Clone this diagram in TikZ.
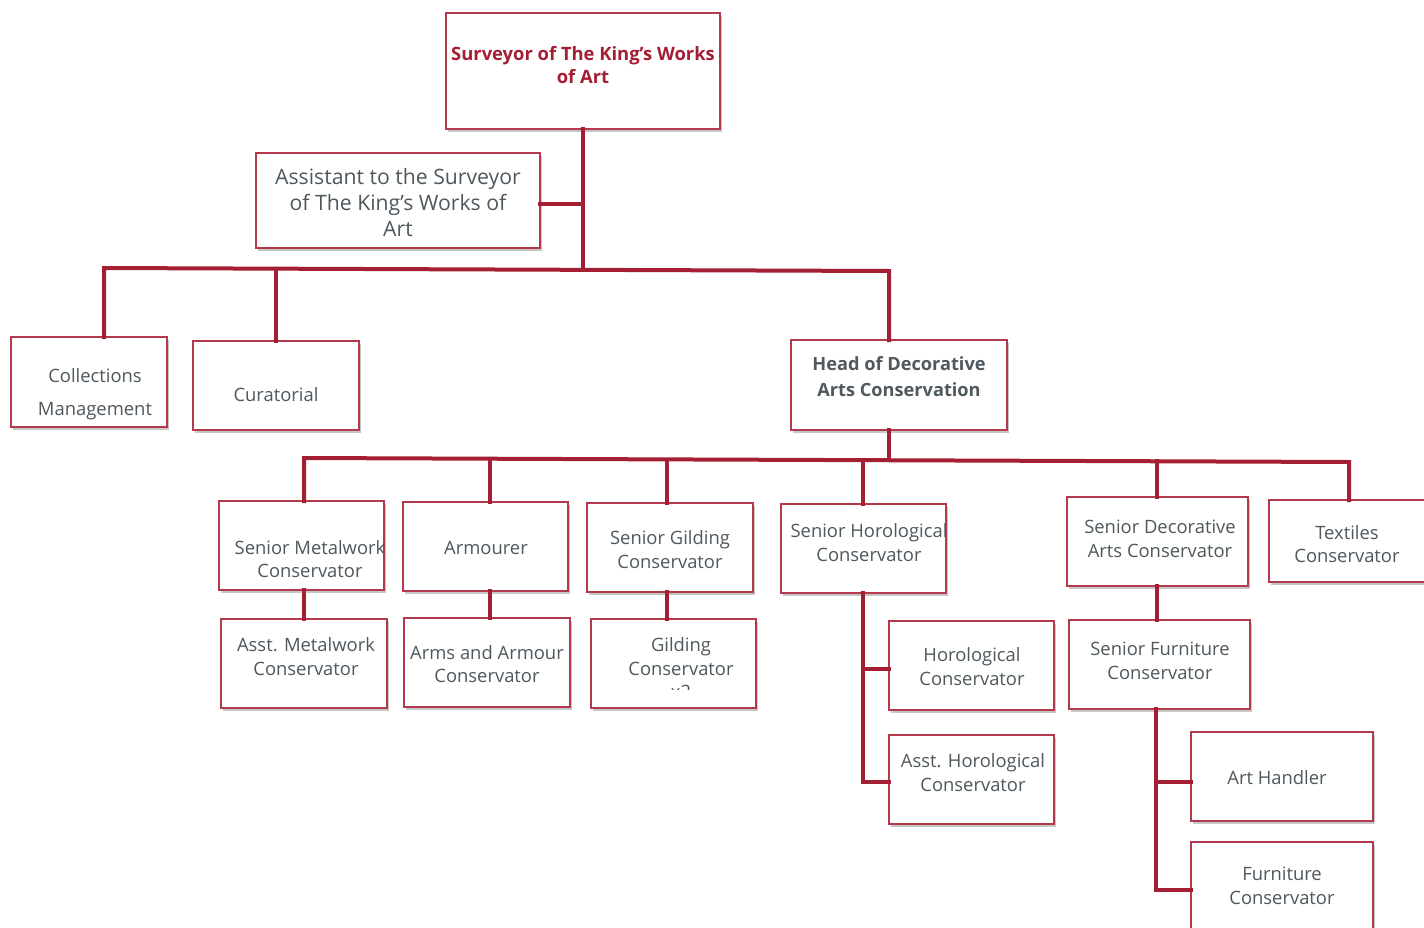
\documentclass[tikz,border=0pt]{standalone}
\usepackage{fontspec}
\setmainfont{Open Sans}
\usetikzlibrary{shadows}
\definecolor{kred}{HTML}{A41E34}
\definecolor{kborder}{HTML}{B23A4C}
\definecolor{kgray}{HTML}{4E585D}
\tikzset{
  obox/.style={draw=kborder,line width=0.6pt,fill=white,inner sep=0pt,outer sep=0pt,
    drop shadow={shadow xshift=1pt,shadow yshift=-1.5pt,fill=black,opacity=0.22}},
  otext/.style={text=kgray,align=center,inner sep=0pt,font=\fontsize{9.2}{11.9}\selectfont},
  conn/.style={draw=kred,line width=2pt,line cap=rect}
}
\newcommand\obx[5]{%
  \pgfmathsetmacro\obw{(#4-#2)*0.5}\pgfmathsetmacro\obh{(#5-#3)*0.5}%
  \node[obox,minimum width=\obw pt,minimum height=\obh pt] (#1) at ({(#2+#4)/2},{(#3+#5)/2}) {};}
\begin{document}
\begin{tikzpicture}[x=0.5pt,y=-0.5pt]
\useasboundingbox (0,0) rectangle (1424,927);
\coordinate (j1) at (583,270);
\coordinate (j2) at (889,460);
\obx{sv}{446}{13}{720}{129}
\obx{as}{256}{153}{540}{248}
\obx{cm}{11}{337}{167}{427}
\obx{cu}{193}{341}{359}{430}
\obx{hd}{791}{340}{1007}{430}
\obx{sm}{219}{501}{384}{590}
\obx{ar}{403}{502}{568}{591}
\obx{sg}{587}{503}{753}{592}
\obx{sh}{781}{504}{946}{593}
\obx{sd}{1067}{497}{1248}{586}
\obx{tx}{1269}{500}{1434}{582}
\obx{am}{221}{619}{387}{708}
\obx{aa}{404}{618}{570}{707}
\obx{gc}{591}{619}{756}{708}
\obx{ho}{889}{621}{1054}{710}
\obx{ah}{889}{735}{1054}{824}
\obx{sf}{1069}{620}{1250}{709}
\obx{hn}{1191}{732}{1373}{821}
\obx{fc}{1191}{842}{1373}{940}
% connectors
\draw[conn] (sv.south -| 583,0) -- (j1);
\draw[conn] (as.east |- 0,204) -- (583,204);
\draw[conn] (cm.north -| 104,0) -- (104,268) -- (889,271) -- (hd.north -| 889,0);
\draw[conn] (276,269) -- (cu.north -| 276,0);
\draw[conn] (hd.south -| 889,0) -- (j2);
\draw[conn] (sm.north -| 304,0) -- (304,458) -- (1349,462) -- (tx.north -| 1349,0);
\draw[conn] (490,459) -- (ar.north -| 490,0);
\draw[conn] (667,459.5) -- (sg.north -| 667,0);
\draw[conn] (863,460) -- (sh.north -| 863,0);
\draw[conn] (1157,461) -- (sd.north -| 1157,0);
\draw[conn] (sm.south -| 304,0) -- (am.north -| 304,0);
\draw[conn] (ar.south -| 490,0) -- (aa.north -| 490,0);
\draw[conn] (sg.south -| 667,0) -- (gc.north -| 667,0);
\draw[conn] (sh.south -| 863,0) -- (863,782) -- (ah.west |- 0,782);
\draw[conn] (863,669) -- (ho.west |- 0,669);
\draw[conn] (sd.south -| 1157,0) -- (sf.north -| 1157,0);
\draw[conn] (sf.south -| 1156,0) -- (1156,890) -- (fc.west |- 0,890);
\draw[conn] (1156,782) -- (hn.west |- 0,782);
% texts
\node[otext,text=kred,font=\fontsize{9.2}{11.5}\selectfont\bfseries] (svt) at (583,65.5) {Surveyor of The King’s Works\\of Art};
\node[otext,font=\fontsize{10.6}{13}\selectfont] (ast) at (398,203) {Assistant to the Surveyor\\of The King’s Works of\\Art};
\node[otext,font=\fontsize{9.2}{16.5}\selectfont] (cmt) at (95,394.5) {Collections\\Management};
\node[otext] (cut) at (276,395) {Curatorial};
\node[otext,font=\fontsize{9.1}{13}\selectfont\bfseries] (hdt) at (899,376.5) {Head of Decorative\\Arts Conservation};
\node[otext] (smt) at (310,559) {Senior Metalwork\\Conservator};
\node[otext] (art) at (486,548) {Armourer};
\node[otext] (sgt) at (670,549.5) {Senior Gilding\\Conservator};
\node[otext] (sht) at (869,542.5) {Senior Horological\\Conservator};
\node[otext] (sdt) at (1160,538.5) {Senior Decorative\\Arts Conservator};
\node[otext] (txt) at (1347,544) {Textiles\\Conservator};
\node[otext] (amt) at (306,656.5) {Asst. Metalwork\\Conservator};
\node[otext] (aat) at (487,664) {Arms and Armour\\Conservator};
\begin{scope}
\clip (592,620) rectangle (755,689);
\node[otext] (gct) at (681,668) {Gilding\\Conservator\\x2};
\end{scope}
\node[otext] (hot) at (972,666.5) {Horological\\Conservator};
\node[otext] (aht) at (973,772.5) {Asst. Horological\\Conservator};
\node[otext] (sft) at (1160,661) {Senior Furniture\\Conservator};
\node[otext] (hnt) at (1277,778) {Art Handler};
\node[otext] (fct) at (1282,886) {Furniture\\Conservator};
\end{tikzpicture}
\end{document}
